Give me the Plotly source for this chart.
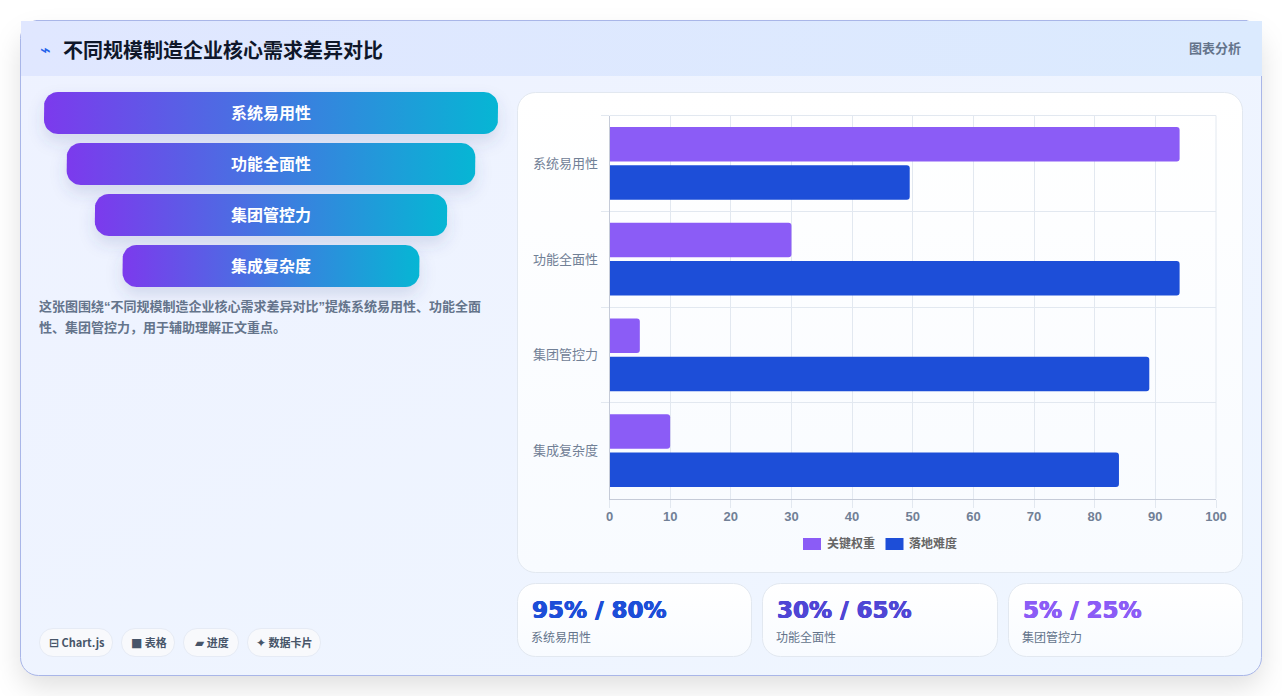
import base64
import numpy as np
import plotly.graph_objects as go

# ---- chart data ----
categories = ["系统易用性", "功能全面性", "集团管控力", "集成复杂度"]
key_weight = [94, 30, 5, 10]
rollout_difficulty = [49.5, 94, 89, 84]
series_names = ["关键权重", "落地难度"]
x_ticks = list(range(0, 101, 10))

funnel_labels = ["系统易用性", "功能全面性", "集团管控力", "集成复杂度"]
funnel_widths = [100, 90, 77.6, 65.4]

stat_values = ["95% / 80%", "30% / 65%", "5% / 25%"]
stat_labels = ["系统易用性", "功能全面性", "集团管控力"]
stat_colors = ["#1d4ed8", "#4f46d5", "#8b5cf6"]

chip_icons = ["⊟", "■", "▰", "✦"]
chip_names = ["Chart.js", "表格", "进度", "数据卡片"]

title_text = "不同规模制造企业核心需求差异对比"
tag_text = "图表分析"
quote = '<span style="font-family:Liberation Sans">%s</span>'
summary_lines = [
    "这张图围绕" + quote % "“" + "不同规模制造企业核心需求差异对比" + quote % "”" + "提炼系统易用性、功能全面",
    "性、集团管控力，用于辅助理解正文重点。",
]

PURPLE = "#8b5cf6"
BLUE = "#1d4ed8"
GRID = "#e2e8f0"
W, H = 1282, 697
CJK = "Noto Sans CJK SC"


def px(x):
    return x / W


def py(y):
    return 1 - y / H


# ---- page backdrop: card, panels, soft shadows ----
panels = [(518, 93, 725, 480)] + [(518, 584, 234, 73), (763, 584, 235, 73), (1009, 584, 234, 73)]
chips = [(40, 629, 73, 28), (122, 629, 53, 28), (184, 629, 55, 28), (248, 629, 73, 28)]
funnel_rows = [(92, 42), (143, 42), (194, 42), (245, 42)]
funnel_center = 271
funnel_full = 454

svg = [f'<svg xmlns="http://www.w3.org/2000/svg" width="{W}" height="{H}" viewBox="0 0 {W} {H}">',
       '<defs>',
       '<filter id="s1" x="-20%" y="-20%" width="140%" height="140%"><feGaussianBlur stdDeviation="14"/></filter>',
       '<filter id="s2" x="-20%" y="-60%" width="140%" height="220%"><feGaussianBlur stdDeviation="8"/></filter>',
       '<linearGradient id="card" x1="0" y1="0" x2="1" y2="1"><stop offset="0" stop-color="#eef2ff"/><stop offset="1" stop-color="#eff6ff"/></linearGradient>',
       '<linearGradient id="head" x1="0" y1="0" x2="1" y2="0"><stop offset="0" stop-color="#e0e7ff"/><stop offset="1" stop-color="#dbeafe"/></linearGradient>',
       '<linearGradient id="panel" x1="0" y1="0" x2="0" y2="1"><stop offset="0" stop-color="#ffffff"/><stop offset="1" stop-color="#f8fbff"/></linearGradient>',
       '</defs>',
       f'<rect width="{W}" height="{H - 1}" fill="#ffffff"/>',
       '<rect x="21" y="36" width="1240" height="650" rx="18" fill="#000000" fill-opacity="0.13" filter="url(#s1)"/>',
       f'<rect x="0" y="{H - 1}" width="{W}" height="1" fill="#ffffff"/>',
       '<rect x="20.5" y="20.5" width="1241" height="655" rx="18" fill="url(#card)" stroke="#a9b6e8"/>',
       '<rect x="21" y="21" width="1241" height="55" fill="url(#head)"/>',
       '<line x1="36" y1="20.5" x2="1247" y2="20.5" stroke="#a9b6e8"/>']
for (y, h), wp in zip(funnel_rows, funnel_widths):
    w = funnel_full * wp / 100
    svg.append(f'<rect x="{funnel_center - w / 2:.1f}" y="{y + 8}" width="{w:.1f}" height="{h}" rx="14" '
               'fill="#3b4a8c" fill-opacity="0.16" filter="url(#s2)"/>')
for x, y, w, h in panels:
    svg.append(f'<rect x="{x - .5}" y="{y - .5}" width="{w}" height="{h}" rx="18" fill="url(#panel)" stroke="#e2e8f0"/>')
for x, y, w, h in chips:
    svg.append(f'<rect x="{x - .5}" y="{y - .5}" width="{w}" height="{h}" rx="13.5" fill="#f8fafc" fill-opacity="0.9" stroke="#e6ebf5"/>')
svg.append('</svg>')
backdrop = "data:image/svg+xml;base64," + base64.b64encode("".join(svg).encode()).decode()

fig = go.Figure()

# ---- grouped horizontal bars ----
fig.add_bar(y=categories, x=key_weight, name=series_names[0], orientation="h",
            marker=dict(color=PURPLE, cornerradius=3, line=dict(width=0)), xaxis="x", yaxis="y")
fig.add_bar(y=categories, x=rollout_difficulty, name=series_names[1], orientation="h",
            marker=dict(color=BLUE, cornerradius=3, line=dict(width=0)), xaxis="x", yaxis="y")


def rounded_outline(half_w, top, bottom, r=14, n=10):
    """Closed outline of a rounded pill centred on x = 0."""
    a = np.linspace(0, np.pi / 2, n)
    xs, ys = [], []
    for cx, cy, start in [(half_w - r, top + r, -np.pi / 2), (half_w - r, bottom - r, 0),
                          (-half_w + r, bottom - r, np.pi / 2), (-half_w + r, top + r, np.pi)]:
        xs += list(cx + r * np.cos(start + a))
        ys += list(cy + r * np.sin(start + a))
    return xs + xs[:1], ys + ys[:1]


# ---- funnel pills on their own hidden axes, one pixel per unit ----
for (y, h), wp, label in zip(funnel_rows, funnel_widths, funnel_labels):
    xs, ys = rounded_outline(funnel_full * wp / 200, y, y + h)
    fig.add_scatter(x=xs, y=ys, mode="lines", fill="toself", line=dict(width=0), hoverinfo="skip",
                    showlegend=False, xaxis="x2", yaxis="y2",
                    fillgradient=dict(type="horizontal",
                                      colorscale=[[0, "#7c3aed"], [1, "#06b6d4"]]))

annotations = []


def text(x, y, s, size, color, anchor="left", bold=False, family=CJK, shadow=None):
    font = dict(size=size, color=color, family=family, weight=700 if bold else 400)
    if shadow:
        font["shadow"] = shadow
    annotations.append(dict(x=px(x), y=py(y), xref="paper", yref="paper", text=s, showarrow=False,
                            xanchor=anchor, yanchor="middle", borderpad=0, borderwidth=0, font=font))


text(40, 49, "⌁", 18, "#2563eb", family="DejaVu Sans", bold=True)
text(63, 49, title_text, 20, "#0f172a", bold=True)
text(1241, 48, tag_text, 13, "#64748b", anchor="right", bold=True)

for (y, h), label in zip(funnel_rows, funnel_labels):
    text(funnel_center, y + h / 2 - 1, label, 16, "#ffffff", anchor="center", bold=True)

for i, line in enumerate(summary_lines):
    text(39, 306 + 20 * i, line, 13, "#64748b", bold=True)

for (x, y, w, h), icon, chip in zip(chips, chip_icons, chip_names):
    label = f'<span style="font-family:DejaVu Sans;font-size:12px">{icon}</span> {chip}'
    text(x + w / 2, y + h / 2 - 1.5, label, 11, "#475569", anchor="center", bold=True)

for (x, y, w, h), value, label, color in zip(panels[1:], stat_values, stat_labels, stat_colors):
    text(x + 13.5, 610, value, 23, color, bold=True, family="DejaVu Sans",
         shadow=f"0.6px 0 0 {color}, -0.4px 0 0 {color}, 0 0.4px 0 {color}")
    text(x + 13, 636, label, 12, "#64748b")

# ---- legend: wide swatches under the plot ----
shapes = []
for sx, sw, lx, name, col in [(803, 18, 827, series_names[0], PURPLE), (885.5, 18, 909, series_names[1], BLUE)]:
    shapes.append(dict(type="rect", xref="paper", yref="paper", layer="above", line=dict(width=0),
                       x0=px(sx), x1=px(sx + sw), y0=py(538), y1=py(550), fillcolor=col))
    text(lx, 542.5, name, 12, "#666666", bold=True)

# Closing frame lines on the far edges of the plot area
shapes.append(dict(type="line", xref="x domain", yref="y domain", x0=1, x1=1, y0=0, y1=1,
                   layer="below", line=dict(color=GRID, width=1)))
shapes.append(dict(type="line", xref="x domain", yref="y domain", x0=0, x1=1, y0=1, y1=1,
                   layer="below", line=dict(color=GRID, width=1)))

fig.update_layout(
    width=W, height=H, margin=dict(l=0, r=0, t=0, b=0, pad=0, autoexpand=False), autosize=False,
    paper_bgcolor="#ffffff", plot_bgcolor="rgba(0,0,0,0)",
    barmode="group", bargap=0.2, bargroupgap=0.1, showlegend=False,
    images=[dict(source=backdrop, xref="paper", yref="paper", x=0, y=1, sizex=1, sizey=1,
                 xanchor="left", yanchor="top", sizing="stretch", layer="below")],
    annotations=annotations, shapes=shapes,
    xaxis=dict(domain=[px(609.5), px(1216)], range=[0, 100], tickvals=x_ticks, anchor="y",
               showgrid=True, gridcolor=GRID, gridwidth=1, zeroline=False,
               showline=True, linecolor="#c5cbd8", ticks="outside", ticklen=8, tickcolor=GRID,
               ticklabelstandoff=-2,
               tickfont=dict(family="Liberation Sans", size=13, color="#718096", weight=700)),
    yaxis=dict(domain=[py(498.5), py(115.5)], type="category", categoryorder="array",
               categoryarray=categories, autorange="reversed", anchor="x",
               tickson="boundaries", showgrid=True, gridcolor=GRID, gridwidth=1,
               showline=True, linecolor="#c5cbd8", ticks="outside", ticklen=8, tickcolor=GRID,
               ticklabelstandoff=8,
               tickfont=dict(family=CJK, size=13, color="#718096")),
    xaxis2=dict(domain=[px(funnel_center - funnel_full / 2), px(funnel_center + funnel_full / 2)],
                range=[-funnel_full / 2, funnel_full / 2], visible=False, anchor="y2", fixedrange=True),
    yaxis2=dict(domain=[py(287), py(92)], range=[287, 92], visible=False, anchor="x2", fixedrange=True),
)

fig.write_html("out.html", config=dict(displayModeBar=False))
